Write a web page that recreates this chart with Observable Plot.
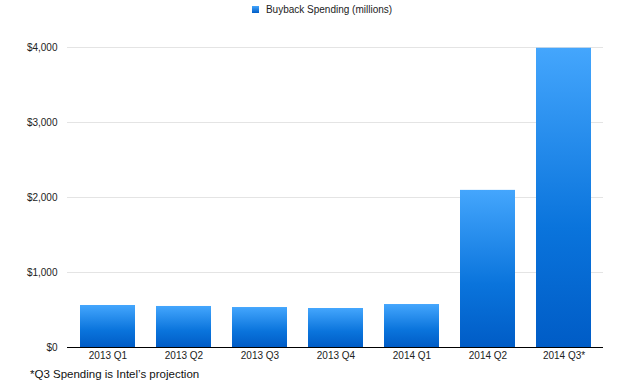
<!DOCTYPE html>
<html>
<head>
<meta charset="utf-8">
<script src="https://cdn.jsdelivr.net/npm/d3@7"></script>
<script src="https://cdn.jsdelivr.net/npm/@observablehq/plot@0.6"></script>
<style>
  body { margin: 0; background: #fff; font-family: "Liberation Sans", Arial, sans-serif; }
  #wrap { position: relative; width: 626px; height: 390px; }
  #legend { position: absolute; left: 9px; top: 4px; width: 626px; text-align: center; font-size: 10px; color: #222; }
  #legend .sw { display: inline-block; width: 7px; height: 7px; margin-right: 7px; vertical-align: 0px;
    background: linear-gradient(#44a6fd, #005cc6); }
  #chart { position: absolute; left: 0; top: 20px; }
  #caption { position: absolute; left: 30px; top: 368px; font-size: 11.5px; color: #111; }
</style>
</head>
<body>
<div id="wrap">
  <div id="legend"><span class="sw"></span>Buyback Spending (millions)</div>
  <div id="chart"></div>
  <div id="caption">*Q3 Spending is Intel’s projection</div>
</div>
<script>
const categories = ["2013 Q1", "2013 Q2", "2013 Q3", "2013 Q4", "2014 Q1", "2014 Q2", "2014 Q3*"];
const spending = [560, 547, 533, 520, 573, 2095, 3990];
const yTicks = [0, 1000, 2000, 3000, 4000];

const data = categories.map((c, i) => ({quarter: c, value: spending[i]}));

const plot = Plot.plot({
  width: 626,
  height: 350,
  marginTop: 27,
  marginBottom: 23,
  marginLeft: 67,
  marginRight: 23,
  style: {fontFamily: "'Liberation Sans', Arial, sans-serif", fontSize: "10px", color: "#222", background: "transparent"},
  x: {domain: categories, paddingInner: 0.28, paddingOuter: 0.15, label: null},
  y: {domain: [0, 4000], label: null},
  marks: [
    Plot.gridY(yTicks, {stroke: "#e4e4e4", strokeOpacity: 1}),
    Plot.axisY(yTicks, {tickSize: 0, tickPadding: 10, tickFormat: d => "$" + d3.format(",")(d), label: null}),
    Plot.axisX({tickSize: 0, tickPadding: 4, label: null}),
    Plot.barY(data, {x: "quarter", y: "value", fill: "url(#barGrad)"}),
    Plot.ruleY([0], {stroke: "#000", strokeWidth: 1})
  ]
});

const svg = d3.select(plot);
const defs = svg.insert("defs", ":first-child");
const g = defs.append("linearGradient").attr("id", "barGrad")
  .attr("x1", 0).attr("y1", 0).attr("x2", 0).attr("y2", 1);
g.append("stop").attr("offset", "0%").attr("stop-color", "#44a6fd");
g.append("stop").attr("offset", "60%").attr("stop-color", "#0a74dc");
g.append("stop").attr("offset", "100%").attr("stop-color", "#005cc6");

document.getElementById("chart").appendChild(plot);
</script>
</body>
</html>
